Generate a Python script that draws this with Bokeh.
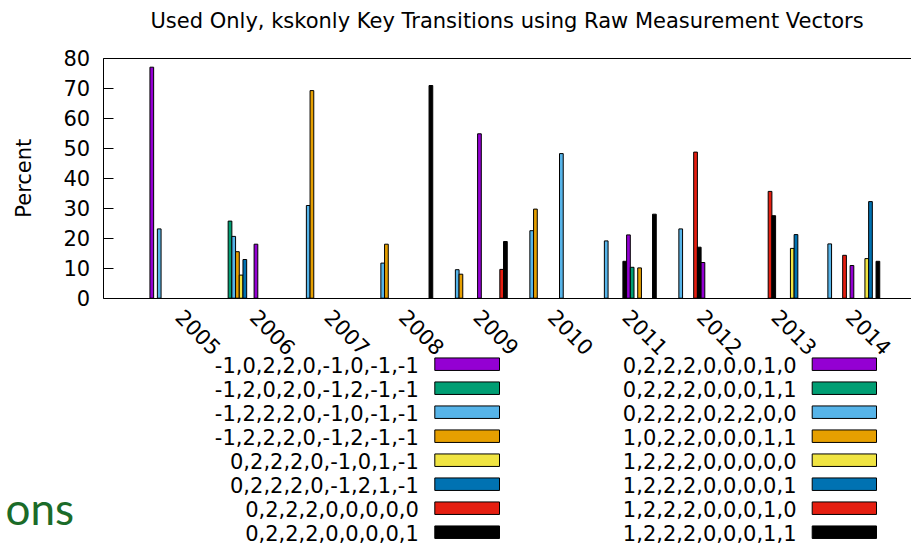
import math
from bokeh.plotting import figure
from bokeh.models import Range1d, SingleIntervalTicker, FixedTicker, LinearAxis, ColumnDataSource
from bokeh.core.properties import value
from bokeh.embed import file_html
from bokeh.resources import INLINE

# ---------------- data ----------------
years = ["2005", "2006", "2007", "2008", "2009", "2010", "2011", "2012", "2013", "2014"]

series_names = [
    "-1,0,2,2,0,-1,0,-1,-1",
    "-1,2,0,2,0,-1,2,-1,-1",
    "-1,2,2,2,0,-1,0,-1,-1",
    "-1,2,2,2,0,-1,2,-1,-1",
    "0,2,2,2,0,-1,0,1,-1",
    "0,2,2,2,0,-1,2,1,-1",
    "0,2,2,2,0,0,0,0,0",
    "0,2,2,2,0,0,0,0,1",
    "0,2,2,2,0,0,0,1,0",
    "0,2,2,2,0,0,0,1,1",
    "0,2,2,2,0,2,2,0,0",
    "1,0,2,2,0,0,0,1,1",
    "1,2,2,2,0,0,0,0,0",
    "1,2,2,2,0,0,0,0,1",
    "1,2,2,2,0,0,0,1,0",
    "1,2,2,2,0,0,0,1,1",
]

palette8 = ["#9400d3", "#009e73", "#56b4e9", "#e69f00",
            "#f0e442", "#0072b2", "#e51e10", "#000000"]

#      2005  2006  2007  2008  2009  2010  2011  2012  2013  2014
s00 = [77.0, 0.0, 0.0, 0.0, 0.0, 0.0, 0.0, 0.0, 0.0, 0.0]
s01 = [0.0, 25.7, 0.0, 0.0, 0.0, 0.0, 0.0, 0.0, 0.0, 0.0]
s02 = [23.1, 20.6, 30.9, 11.7, 9.5, 22.5, 19.1, 23.1, 0.0, 18.1]
s03 = [0.0, 15.5, 69.2, 18.0, 8.0, 29.7, 0.0, 0.0, 0.0, 0.0]
s04 = [0.0, 7.7, 0.0, 0.0, 0.0, 0.0, 0.0, 0.0, 0.0, 0.0]
s05 = [0.0, 12.9, 0.0, 0.0, 0.0, 0.0, 0.0, 0.0, 0.0, 0.0]
s06 = [0.0, 0.0, 0.0, 0.0, 0.0, 0.0, 0.0, 48.7, 35.6, 14.3]
s07 = [0.0, 0.0, 0.0, 0.0, 0.0, 0.0, 12.3, 17.0, 27.5, 0.0]
s08 = [0.0, 18.0, 0.0, 0.0, 54.8, 0.0, 21.1, 11.9, 0.0, 10.9]
s09 = [0.0, 0.0, 0.0, 0.0, 0.0, 0.0, 10.3, 0.0, 0.0, 0.0]
s10 = [0.0, 0.0, 0.0, 0.0, 0.0, 48.2, 0.0, 0.0, 0.0, 0.0]
s11 = [0.0, 0.0, 0.0, 0.0, 0.0, 0.0, 10.1, 0.0, 0.0, 0.0]
s12 = [0.0, 0.0, 0.0, 0.0, 0.0, 0.0, 0.0, 0.0, 16.6, 13.2]
s13 = [0.0, 0.0, 0.0, 0.0, 0.0, 0.0, 0.0, 0.0, 21.2, 32.2]
s14 = [0.0, 0.0, 0.0, 0.0, 9.6, 0.0, 0.0, 0.0, 0.0, 0.0]
s15 = [0.0, 0.0, 0.0, 70.9, 18.9, 0.0, 28.0, 0.0, 0.0, 12.3]

series_values = [s00, s01, s02, s03, s04, s05, s06, s07,
                 s08, s09, s10, s11, s12, s13, s14, s15]

y_ticks_interval = 10
y_max = 80

# ---------------- geometry ----------------
FONT = "DejaVu Sans"
FS = "21px"
W, H = 911, 547
TOP = 37                       # title band above the frame
PX_PER_X = 74.5                # pixels per cluster
PX_PER_Y = 3.0                 # pixels per percent
CLUSTER0_PX = 179.1            # page x of first cluster centre
ZERO_PY = 297.7                # page y of 0 %
LEFT_PX = 102.7                # page x of the left border

X0 = -CLUSTER0_PX / PX_PER_X
X1 = (W - CLUSTER0_PX) / PX_PER_X
Y1 = (ZERO_PY - TOP) / PX_PER_Y
Y0 = -(H - ZERO_PY) / PX_PER_Y


def px_x(px):  # page x -> data x
    return (px - CLUSTER0_PX) / PX_PER_X


def px_y(py):  # page y -> data y
    return (ZERO_PY - py) / PX_PER_Y


LEFT_X = px_x(LEFT_PX)

p = figure(width=W, height=H, output_backend="svg", toolbar_location=None,
           x_range=Range1d(X0, X1), y_range=Range1d(Y0, Y1),
           min_border_left=0, min_border_right=0,
           min_border_top=TOP, min_border_bottom=0)
p.outline_line_color = None
p.background_fill_color = "white"
p.border_fill_color = "white"
p.xgrid.visible = False
p.ygrid.visible = False

p.title.text = "Used Only, kskonly Key Transitions using Raw Measurement Vectors"
p.title.align = "left"
p.title.offset = 150
p.title.text_font = FONT
p.title.text_font_size = FS
p.title.text_font_style = "normal"
p.title.text_color = "black"

# ---------------- bars ----------------
n_series = len(series_names)
slot = 1.0 / 20.1
for i, vals in enumerate(series_values):
    xs, tops = [], []
    for k, v in enumerate(vals):
        if v > 0:
            xs.append(k + (i - (n_series - 1) / 2.0) * slot)
            tops.append(v)
    if not xs:
        continue
    src = ColumnDataSource(dict(x=xs, top=tops))
    p.vbar(x="x", top="top", bottom=0, width=slot, source=src,
           fill_color=palette8[i % 8], line_color="black", line_width=1)

# ---------------- axes ----------------
ya = p.yaxis[0]
ya.fixed_location = LEFT_X
ya.ticker = SingleIntervalTicker(interval=y_ticks_interval, num_minor_ticks=0)
ya.bounds = (0, y_max)
ya.major_tick_in = 10
ya.major_tick_out = 0
ya.minor_tick_in = 0
ya.minor_tick_out = 0
ya.major_label_standoff = 13
ya.major_label_text_font = FONT
ya.major_label_text_font_size = FS
ya.major_label_text_color = "black"
ya.axis_line_color = "black"
ya.major_tick_line_color = "black"

xa = p.xaxis[0]
xa.fixed_location = 0
xa.bounds = (LEFT_X, X1)
xa.ticker = FixedTicker(ticks=list(range(len(years))))
xa.major_label_overrides = {k: y for k, y in enumerate(years)}
xa.major_label_orientation = -math.pi / 4
xa.major_tick_in = 0
xa.major_tick_out = 0
xa.minor_tick_in = 0
xa.minor_tick_out = 0
xa.major_label_standoff = 15
xa.major_label_text_font = FONT
xa.major_label_text_font_size = FS
xa.major_label_text_color = "black"
xa.axis_line_color = "black"

# top border line of the plot box
top_axis = LinearAxis(fixed_location=y_max, bounds=(LEFT_X, X1),
                      ticker=FixedTicker(ticks=[]),
                      major_tick_in=0, major_tick_out=0,
                      minor_tick_in=0, minor_tick_out=0,
                      major_label_text_font_size="0px",
                      axis_line_color="black")
p.add_layout(top_axis, "above")

# y axis title
p.text(x=[px_x(23.5)], y=[px_y(177.7)], text=["Percent"], angle=math.pi / 2,
       text_align="center", text_baseline="middle",
       text_font=value(FONT), text_font_size=FS, text_color="black")

# ---------------- legend (label then swatch, two columns) ----------------
rows = 8
row0, row_gap = 363.7, 24.0
cols = [(418.3, 434.3, 499.0), (796.0, 811.7, 876.0)]
sw_h = 12.5
lx, ly, lt, ql, qr, qt, qb, qc = [], [], [], [], [], [], [], []
for i, name in enumerate(series_names):
    c = i // rows
    r = i % rows
    text_r, sw_l, sw_r = cols[c]
    yc = row0 + r * row_gap
    lx.append(px_x(text_r))
    ly.append(px_y(yc + 0.5))
    lt.append(name)
    ql.append(px_x(sw_l))
    qr.append(px_x(sw_r))
    qt.append(px_y(yc - sw_h / 2))
    qb.append(px_y(yc + sw_h / 2))
    qc.append(palette8[i % 8])

p.text(x=lx, y=ly, text=lt, text_align="right", text_baseline="middle",
       text_font=value(FONT), text_font_size=FS, text_color="black")
p.quad(left=ql, right=qr, top=qt, bottom=qb, fill_color=qc,
       line_color="black", line_width=1)

# stray slide text at the lower left
p.text(x=[px_x(5)], y=[px_y(507)], text=["ons"], text_align="left",
       text_baseline="alphabetic", text_font=value("Lato"),
       text_font_size="44px", text_color="#1b6b28")

open("out.html", "w").write(file_html(p, INLINE))
